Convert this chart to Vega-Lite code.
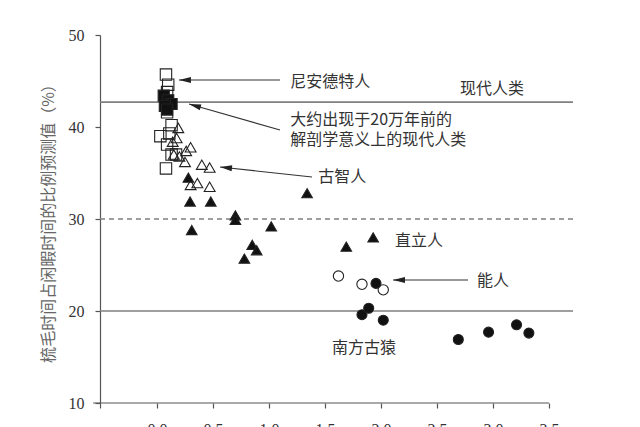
{
  "$schema": "https://vega.github.io/schema/vega-lite/v6.json",
  "autosize": "none",
  "width": 473,
  "height": 368,
  "padding": {"left": 100, "top": 35, "right": 67, "bottom": 24},
  "background": "white",
  "config": {"view": {"stroke": null}},
  "datasets": {
    "pts": [
      {"g": "尼安德特人", "x": 0.08, "y": 45.7},
      {"g": "尼安德特人", "x": 0.10, "y": 44.6},
      {"g": "尼安德特人", "x": 0.09, "y": 43.8},
      {"g": "尼安德特人", "x": 0.09, "y": 41.6},
      {"g": "尼安德特人", "x": 0.13, "y": 40.2},
      {"g": "尼安德特人", "x": 0.03, "y": 39.0},
      {"g": "尼安德特人", "x": 0.11, "y": 39.3},
      {"g": "尼安德特人", "x": 0.09, "y": 38.1},
      {"g": "尼安德特人", "x": 0.13, "y": 37.0},
      {"g": "尼安德特人", "x": 0.17, "y": 37.0},
      {"g": "尼安德特人", "x": 0.08, "y": 35.5},
      {"g": "现代人类", "x": 0.06, "y": 43.4},
      {"g": "现代人类", "x": 0.10, "y": 42.9},
      {"g": "现代人类", "x": 0.13, "y": 42.5},
      {"g": "现代人类", "x": 0.07, "y": 42.3},
      {"g": "现代人类", "x": 0.09, "y": 41.9},
      {"g": "古智人", "x": 0.19, "y": 39.9},
      {"g": "古智人", "x": 0.175, "y": 38.8},
      {"g": "古智人", "x": 0.14, "y": 38.4},
      {"g": "古智人", "x": 0.30, "y": 37.8},
      {"g": "古智人", "x": 0.26, "y": 37.4},
      {"g": "古智人", "x": 0.20, "y": 36.8},
      {"g": "古智人", "x": 0.15, "y": 37.0},
      {"g": "古智人", "x": 0.25, "y": 36.2},
      {"g": "古智人", "x": 0.40, "y": 35.9},
      {"g": "古智人", "x": 0.47, "y": 35.6},
      {"g": "古智人", "x": 0.30, "y": 33.7},
      {"g": "古智人", "x": 0.36, "y": 33.9},
      {"g": "古智人", "x": 0.47, "y": 33.5},
      {"g": "直立人", "x": 0.28, "y": 34.5},
      {"g": "直立人", "x": 0.295, "y": 31.9},
      {"g": "直立人", "x": 0.48, "y": 31.9},
      {"g": "直立人", "x": 0.70, "y": 30.4},
      {"g": "直立人", "x": 0.70, "y": 29.9},
      {"g": "直立人", "x": 0.31, "y": 28.8},
      {"g": "直立人", "x": 1.02, "y": 29.2},
      {"g": "直立人", "x": 1.34, "y": 32.8},
      {"g": "直立人", "x": 0.85, "y": 27.2},
      {"g": "直立人", "x": 0.89, "y": 26.6},
      {"g": "直立人", "x": 0.78, "y": 25.7},
      {"g": "直立人", "x": 1.69, "y": 27.0},
      {"g": "直立人", "x": 1.93, "y": 28.0},
      {"g": "能人", "x": 1.62, "y": 23.8},
      {"g": "能人", "x": 1.83, "y": 22.9},
      {"g": "能人", "x": 2.02, "y": 22.3},
      {"g": "南方古猿", "x": 1.955, "y": 23.0},
      {"g": "南方古猿", "x": 1.83, "y": 19.6},
      {"g": "南方古猿", "x": 1.89, "y": 20.3},
      {"g": "南方古猿", "x": 2.02, "y": 19.0},
      {"g": "南方古猿", "x": 2.69, "y": 16.9},
      {"g": "南方古猿", "x": 2.96, "y": 17.7},
      {"g": "南方古猿", "x": 3.21, "y": 18.5},
      {"g": "南方古猿", "x": 3.32, "y": 17.6}
    ],
    "refs": [
      {"kind": "solid", "y": 42.7},
      {"kind": "dash", "y": 30},
      {"kind": "solid", "y": 20}
    ],
    "labels": [
      {"t": "尼安德特人", "x": 1.19, "y": 44.9},
      {"t": "现代人类", "x": 2.705, "y": 44.15},
      {"t": "大约出现于20万年前的", "x": 1.19, "y": 40.76},
      {"t": "解剖学意义上的现代人类", "x": 1.19, "y": 38.59},
      {"t": "古智人", "x": 1.44, "y": 34.57},
      {"t": "直立人", "x": 2.125, "y": 27.6},
      {"t": "能人", "x": 2.857, "y": 23.26},
      {"t": "南方古猿", "x": 1.5625, "y": 15.98}
    ],
    "arrows": [
      {"x1": 1.098, "y1": 45.11, "x2": 0.196, "y2": 45.11, "a": 270},
      {"x1": 1.098, "y1": 39.67, "x2": 0.286, "y2": 42.5, "a": 286},
      {"x1": 1.384, "y1": 34.57, "x2": 0.5625, "y2": 35.65, "a": 276},
      {"x1": 2.777, "y1": 23.37, "x2": 2.107, "y2": 23.37, "a": 270}
    ],
    "base": [{"x1": -0.57, "x2": 3.5, "y": 10}]
  },
  "layer": [
    {
      "data": {"name": "refs"},
      "mark": {"type": "rule", "color": "#808080", "strokeWidth": 1.6},
      "encoding": {
        "y": {"field": "y", "type": "quantitative"},
        "strokeDash": {"field": "kind", "type": "nominal", "scale": {"domain": ["solid", "dash"], "range": [[1, 0], [5, 4]]}, "legend": null}
      }
    },
    {
      "data": {"name": "base"},
      "mark": {"type": "rule", "color": "#555", "strokeWidth": 1.2, "clip": false},
      "encoding": {
        "x": {"field": "x1", "type": "quantitative"},
        "x2": {"field": "x2"},
        "y": {"field": "y", "type": "quantitative"}
      }
    },
    {
      "data": {"name": "pts"},
      "mark": {"type": "point", "strokeWidth": 1.1, "opacity": 1},
      "encoding": {
        "x": {
          "field": "x", "type": "quantitative",
          "scale": {"domain": [-0.509, 3.714], "nice": false, "zero": false},
          "axis": {
            "title": null, "domain": false, "grid": false,
            "values": [-0.509, 0, 0.5, 1, 1.5, 2, 2.5, 3, 3.5],
            "labelExpr": "datum.value < -0.1 ? '' : format(datum.value, '.1f')",
            "tickSize": 5, "tickColor": "#555", "tickWidth": 1.2,
            "labelFont": "Liberation Serif", "labelFontSize": 16, "labelColor": "#333",
            "labelPadding": 13, "labelBaseline": "top"
          }
        },
        "y": {
          "field": "y", "type": "quantitative",
          "scale": {"domain": [10, 50], "nice": false, "zero": false},
          "axis": {
            "title": "梳毛时间占闲暇时间的比例预测值（%）",
            "titleFont": "Noto Sans CJK SC", "titleFontSize": 16, "titleFontWeight": "normal", "titleColor": "#666",
            "titlePadding": 12,
            "values": [10, 20, 30, 40, 50], "grid": false,
            "domainColor": "#555", "domainWidth": 1.2,
            "tickSize": 5, "tickColor": "#555", "tickWidth": 1.2,
            "labelFont": "Liberation Serif", "labelFontSize": 16, "labelColor": "#333",
            "labelPadding": 11
          }
        },
        "shape": {
          "field": "g", "type": "nominal", "legend": null,
          "scale": {"domain": ["尼安德特人", "现代人类", "古智人", "直立人", "能人", "南方古猿"],
                    "range": ["square", "square", "triangle-up", "triangle-up", "circle", "circle"]}
        },
        "fill": {
          "field": "g", "type": "nominal", "legend": null,
          "scale": {"domain": ["尼安德特人", "现代人类", "古智人", "直立人", "能人", "南方古猿"],
                    "range": ["transparent", "#111", "transparent", "#111", "transparent", "#111"]}
        },
        "stroke": {"value": "#222"},
        "size": {
          "field": "g", "type": "nominal", "legend": null,
          "scale": {"domain": ["尼安德特人", "现代人类", "古智人", "直立人", "能人", "南方古猿"],
                    "range": [130, 100, 125, 115, 125, 185]}
        }
      }
    },
    {
      "data": {"name": "arrows"},
      "mark": {"type": "rule", "color": "#333", "strokeWidth": 1.1},
      "encoding": {
        "x": {"field": "x1", "type": "quantitative"},
        "y": {"field": "y1", "type": "quantitative"},
        "x2": {"field": "x2"},
        "y2": {"field": "y2"}
      }
    },
    {
      "data": {"name": "arrows"},
      "mark": {"type": "point", "shape": "M0,0L0.5,2L-0.5,2Z", "filled": true, "color": "#222", "size": 144, "opacity": 1},
      "encoding": {
        "x": {"field": "x2", "type": "quantitative"},
        "y": {"field": "y2", "type": "quantitative"},
        "angle": {"field": "a", "type": "quantitative", "scale": null}
      }
    },
    {
      "data": {"name": "labels"},
      "mark": {"type": "text", "align": "left", "baseline": "middle", "font": "Noto Sans CJK SC", "fontSize": 16, "color": "#333"},
      "encoding": {
        "x": {"field": "x", "type": "quantitative"},
        "y": {"field": "y", "type": "quantitative"},
        "text": {"field": "t"}
      }
    }
  ]
}
